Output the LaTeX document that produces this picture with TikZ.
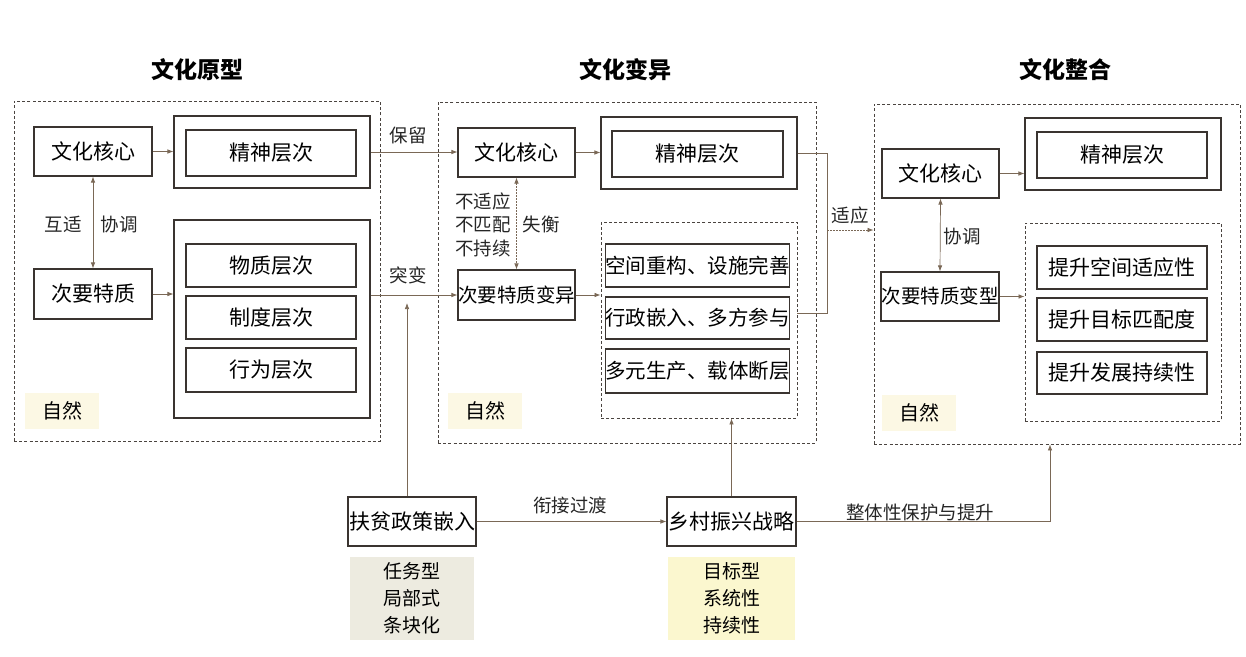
\documentclass[tikz,border=0pt]{standalone}
\usepackage{fontspec}
\setmainfont{Noto Sans CJK SC}
\usetikzlibrary{arrows.meta,positioning,calc}
\definecolor{boxline}{HTML}{3A3430}
\definecolor{conn}{HTML}{7A6856}
\definecolor{panelline}{HTML}{4A4440}
\definecolor{ziran}{HTML}{FCF8E4}
\definecolor{shadeA}{HTML}{EDEBE0}
\definecolor{shadeB}{HTML}{FBF7CF}
\tikzset{
  bx/.style={draw=boxline,line width=1.1pt,inner sep=0pt,align=center,
    font=\fontsize{21}{23}\selectfont},
  bxs/.style={bx,font=\fontsize{19.5}{22}\selectfont},
  bxm/.style={bx,font=\fontsize{20.5}{22}\selectfont},
  outerbx/.style={draw=boxline,line width=1.1pt,inner sep=0pt},
  panel/.style={draw=panelline,line width=0.9pt,dash pattern=on 3pt off 2.2pt,inner sep=0pt},
  lbl/.style={inner sep=0pt,align=center,font=\fontsize{18.5}{23.5}\selectfont,text=black!85},
  ttl/.style={inner sep=0pt,font=\fontsize{23}{26}\selectfont\bfseries},
  zr/.style={fill=ziran,inner sep=0pt,minimum width=74pt,minimum height=36pt,
    font=\fontsize{20}{22}\selectfont},
  shade/.style={inner sep=0pt,align=center,font=\fontsize{19}{27}\selectfont},
  cn/.style={draw=conn,line width=0.7pt,-{Latex[length=6pt,width=4.5pt]}},
  cnl/.style={draw=conn,line width=0.7pt},
  cnd/.style={draw=conn,line width=0.7pt,{Latex[length=6pt,width=4.5pt]}-{Latex[length=6pt,width=4.5pt]}},
}
\begin{document}
\begin{tikzpicture}[x=1pt,y=-1pt]
\useasboundingbox[fill=white] (0,0) rectangle (1246,656);

% titles
\node[ttl] (t1) at (197,70) {文化原型};
\node[ttl] (t2) at (625,70) {文化变异};
\node[ttl] (t3) at (1065,70) {文化整合};

% panels
\node[panel,minimum width=366pt,minimum height=340pt] (PL) at (197,271) {};
\node[panel,minimum width=378pt,minimum height=341pt] (PM) at (627,272.5) {};
\node[panel,minimum width=366pt,minimum height=340pt] (PR) at (1057,274) {};

% ziran
\node[zr] (zL) at (62,411) {自然};
\node[zr] (zM) at (485,411) {自然};
\node[zr] (zR) at (919,413) {自然};

% left panel
\node[bx,minimum width=118pt,minimum height=49pt] (Lcore) at (93,151.5) {文化核心};
\node[outerbx,minimum width=196pt,minimum height=72pt] (Lspo) at (272,152) {};
\node[bx,minimum width=170pt,minimum height=46pt] (Lsp) at (271,153) {精神层次};
\node[outerbx,minimum width=196pt,minimum height=198pt] (Lseco) at (272,319) {};
\node[bx,minimum width=170pt,minimum height=43pt] (Lm1) at (271,265.5) {物质层次};
\node[bx,minimum width=170pt,minimum height=43pt] (Lm2) at (271,317.5) {制度层次};
\node[bx,minimum width=170pt,minimum height=44pt] (Lm3) at (271,370) {行为层次};
\node[bx,minimum width=118pt,minimum height=50pt] (Lsec) at (93,294) {次要特质};
\node[lbl] (hs) at (63,224) {互适};
\node[lbl] (xt1) at (119,224) {协调};

% middle panel
\node[bx,minimum width=117pt,minimum height=49pt] (Mcore) at (516.5,152.5) {文化核心};
\node[outerbx,minimum width=196pt,minimum height=72pt] (Mspo) at (699,153) {};
\node[bx,minimum width=171pt,minimum height=46pt] (Msp) at (697.5,154) {精神层次};
\node[panel,minimum width=196pt,minimum height=196pt] (Min) at (699,320) {};
\node[bxm,minimum width=171pt,minimum height=43pt] (Mm1) at (697.5,265.5) {空间重构、设施完善};
\node[bxm,minimum width=171pt,minimum height=42pt] (Mm2) at (697.5,318) {行政嵌入、多方参与};
\node[bxm,minimum width=171pt,minimum height=44pt] (Mm3) at (697.5,371) {多元生产、载体断层};
\node[bxs,minimum width=117pt,minimum height=50pt] (Msec) at (516.5,295) {次要特质变异};
\node[lbl] (bsy) at (483,224.5) {不适应\\不匹配\\不持续};
\node[lbl] (sh) at (541,224) {失衡};

% right panel
\node[bx,minimum width=117pt,minimum height=49pt] (Rcore) at (940.5,173.5) {文化核心};
\node[outerbx,minimum width=196pt,minimum height=72pt] (Rspo) at (1123,154) {};
\node[bx,minimum width=170pt,minimum height=46pt] (Rsp) at (1122,155) {精神层次};
\node[panel,minimum width=196pt,minimum height=198pt] (Rin) at (1123,322) {};
\node[bx,minimum width=170pt,minimum height=43pt] (Rm1) at (1122,267.5) {提升空间适应性};
\node[bx,minimum width=170pt,minimum height=43pt] (Rm2) at (1122,319.5) {提升目标匹配度};
\node[bx,minimum width=170pt,minimum height=42pt] (Rm3) at (1122,373) {提升发展持续性};
\node[bxs,minimum width=118pt,minimum height=49pt] (Rsec) at (940,296.5) {次要特质变型};
\node[lbl] (xt2) at (962,236) {协调};

% bottom
\node[bx,minimum width=128pt,minimum height=49pt] (B1) at (412,521.5) {扶贫政策嵌入};
\node[bx,minimum width=129pt,minimum height=49pt] (B2) at (731.5,521.5) {乡村振兴战略};
\node[shade,fill=shadeA,minimum width=124pt,minimum height=83pt] (S1) at (412,598.5) {任务型\\局部式\\条块化};
\node[shade,fill=shadeB,minimum width=127pt,minimum height=83pt] (S2) at (731.5,598.5) {目标型\\系统性\\持续性};

% labels on connectors
\node[lbl] (bl) at (408,135) {保留};
\node[lbl] (tb) at (408,275) {突变};
\node[lbl] (sy) at (850,215) {适应};
\node[lbl] (xj) at (570,505) {衔接过渡};
\node[lbl] (zt) at (920,512) {整体性保护与提升};

% coordinates
\coordinate (bt) at (827,153);
\coordinate (bb) at (827,313);
\coordinate (aj) at (827,230);
\coordinate (fp) at (407,303);
\coordinate (rc) at (1050,521.5);

% connectors left
\draw[cn] (Lcore.east) -- (Lcore.east -| Lspo.west);
\draw[cn] (Lsec.east) -- (Lsec.east -| Lseco.west);
\draw[cnd] (Lcore.south) -- (Lsec.north);
% left -> middle
\draw[cn] (Lspo.east) -- (Lspo.east -| Mcore.west);
\draw[cn] (Msec.west -| Lseco.east) -- (Msec.west);
\draw[cn] (B1.north -| fp) -- (fp);
% middle
\draw[cn] (Mcore.east) -- (Mcore.east -| Mspo.west);
\draw[cnd,dash pattern=on 1.5pt off 1.5pt] (Mcore.south) -- (Msec.north);
\draw[cn] (Msec.east) -- (Msec.east -| Min.west);
\draw[cnl] (Mspo.east |- bt) -- (bt) -- (bb) -- (bb -| Min.east);
\draw[cn,dash pattern=on 2pt off 1pt] (aj) -- (aj -| PR.west);
% right
\draw[cn] (Rcore.east) -- (Rcore.east -| Rspo.west);
\draw[cnd] (Rcore.south) -- (Rsec.north);
\draw[cn] (Rsec.east) -- (Rsec.east -| Rin.west);
% bottom
\draw[cn] (B1.east) -- (B2.west);
\draw[cn] (B2.north) -- (B2.north |- Min.south);
\draw[cn] (B2.east) -- (rc) -- (rc |- PR.south);
\end{tikzpicture}
\end{document}
